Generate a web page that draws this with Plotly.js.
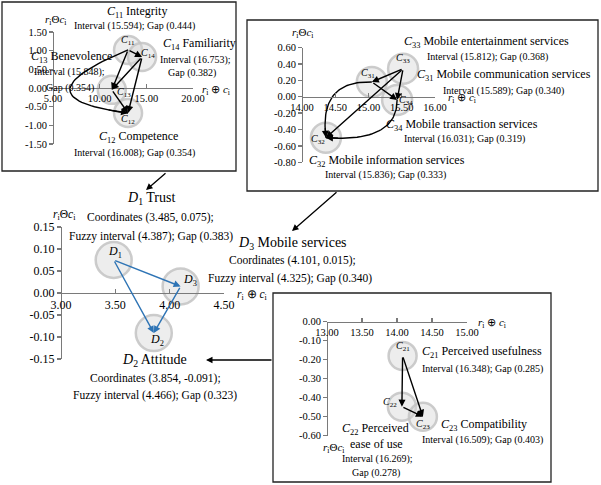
<!DOCTYPE html>
<html>
<head>
<meta charset="utf-8">
<script src="https://cdn.plot.ly/plotly-3.0.1.min.js"></script>
<style>
  body { margin: 0; background: #fff; }
  #chart { width: 601px; height: 485px; }
</style>
</head>
<body>
<div id="chart"></div>
<script>
// C1x: trust criteria (r+c, r-c)
var trustIds = ['11', '12', '13', '14'];
var trustX = [13.04, 13.04, 11.30, 14.54];
var trustY = [1.02, -0.67, -0.05, 0.83];
var trustLinks = [[0, 3], [0, 2], [3, 2], [3, 1], [2, 1]];

// C3x: mobile services criteria
var mobileIds = ['31', '32', '33', '34'];
var mobileX = [15.05, 14.36, 15.52, 15.43];
var mobileY = [0.18, -0.50, 0.34, -0.04];
var mobileLinks = [[2, 0], [2, 1], [2, 3], [0, 3]];

// D1..D3 dimensions
var dimIds = ['1', '2', '3'];
var dimX = [3.485, 3.854, 4.101];
var dimY = [0.075, -0.091, 0.015];
var dimLinks = [[0, 2], [0, 1], [2, 1]];

// C2x: attitude criteria
var attIds = ['21', '22', '23'];
var attX = [14.08, 14.07, 14.37];
var attY = [-0.18, -0.447, -0.50];
var attLinks = [[0, 1], [0, 2], [1, 2]];

var trustXTicks = [5, 10, 15, 20];
var trustYTicks = [-1.5, -1, -0.5, 0, 0.5, 1, 1.5];
var mobileXTicks = [14, 14.5, 15, 15.5, 16];
var mobileYTicks = [-0.8, -0.6, -0.4, -0.2, 0, 0.2, 0.4, 0.6];
var dimXTicks = [3, 3.5, 4, 4.5];
var dimYTicks = [-0.15, -0.1, -0.05, 0, 0.05, 0.1, 0.15];
var attXTicks = [13, 13.5, 14, 14.5, 15];
var attYTicks = [-0.6, -0.5, -0.4, -0.3, -0.2, -0.1, 0];

var FONT = 'Liberation Serif';
var W = 601, H = 485;
var INK = '#000';
var BLUE = '#2E74B5';

var layout = {
  width: W, height: H,
  margin: { l: 0, r: 0, t: 0, b: 0 },
  paper_bgcolor: '#fff',
  plot_bgcolor: 'rgba(0,0,0,0)',
  showlegend: false,
  font: { family: FONT, color: INK },
  shapes: [],
  annotations: []
};
var traces = [];

function px(x) { return x / W; }
function py(y) { return 1 - y / H; }
function f2(v) { return v.toFixed(2); }

function addPanel(n, xt, yt, xpx, ypx, fs) {
  var xdom = [px(xpx[0]), px(xpx[1])];
  var ydom = [py(ypx[1]), py(ypx[0])];
  var xr = [xt[0], xt[xt.length - 1]];
  var yr = [yt[0], yt[yt.length - 1]];
  var pos = ydom[0] + (0 - yr[0]) / (yr[1] - yr[0]) * (ydom[1] - ydom[0]);
  var common = {
    showline: true, linecolor: '#7a7a7a', linewidth: 1.4,
    tickcolor: '#7a7a7a', ticklen: 4, tickwidth: 1.3,
    showgrid: false, zeroline: false, fixedrange: true, anchor: 'free',
    tickmode: 'array',
    tickfont: { family: FONT, size: fs, color: INK }
  };
  layout['xaxis' + n] = Object.assign({ domain: xdom, range: xr, position: pos, ticks: 'inside',
    tickvals: xt, ticktext: xt.map(f2) }, common);
  layout['yaxis' + n] = Object.assign({ domain: ydom, range: yr, position: xdom[0], ticks: 'outside',
    tickvals: yt, ticktext: yt.map(f2) }, common);
}

function arrow(n, x0, y0, x1, y1, color) {
  return {
    xref: 'x' + n, yref: 'y' + n, axref: 'x' + n, ayref: 'y' + n,
    x: x1, y: y1, ax: x0, ay: y0, text: '', showarrow: true,
    arrowhead: 2, arrowsize: 1, arrowwidth: 1.4, arrowcolor: color, standoff: 0
  };
}

function addNodes(n, xs, ys, ids, letter, size, shifts, fs) {
  traces.push({
    type: 'scatter', mode: 'markers', x: xs, y: ys, xaxis: 'x' + n, yaxis: 'y' + n,
    cliponaxis: false, hoverinfo: 'skip',
    marker: { size: size, color: 'rgba(215,215,215,0.45)', line: { color: 'rgba(195,195,195,0.85)', width: 2.5 } }
  });
  ids.forEach(function (id, i) {
    layout.annotations.push({
      xref: 'x' + n, yref: 'y' + n, x: xs[i], y: ys[i],
      xshift: shifts[i][0], yshift: shifts[i][1], showarrow: false,
      text: '<i>' + letter + '</i><sub>' + id + '</sub>',
      font: { family: FONT, size: fs, color: INK }
    });
  });
}

function addLinks(n, xs, ys, links, color) {
  links.forEach(function (l) {
    layout.annotations.push(arrow(n, xs[l[0]], ys[l[0]], xs[l[1]], ys[l[1]], color));
  });
}

// quadratic curve between two nodes, bent toward (cx, cy)
function addCurve(n, xs, ys, a, b, cx, cy) {
  var bx = [], by = [];
  for (var k = 0; k <= 40; k++) {
    var t = k / 40;
    bx.push((1 - t) * (1 - t) * xs[a] + 2 * (1 - t) * t * cx + t * t * xs[b]);
    by.push((1 - t) * (1 - t) * ys[a] + 2 * (1 - t) * t * cy + t * t * ys[b]);
  }
  traces.push({ type: 'scatter', mode: 'lines', x: bx, y: by, xaxis: 'x' + n, yaxis: 'y' + n,
    hoverinfo: 'skip', line: { color: INK, width: 1.4 } });
  layout.annotations.push(arrow(n, bx[36], by[36], xs[b], ys[b], INK));
}

function label(x, y, s, fs) {
  layout.annotations.push({ xref: 'paper', yref: 'paper', x: px(x), y: py(y), text: s,
    showarrow: false, xanchor: 'center', yanchor: 'middle',
    font: { family: FONT, size: fs, color: INK } });
}

function box(x0, y0, x1, y1) {
  layout.shapes.push({ type: 'rect', xref: 'paper', yref: 'paper',
    x0: px(x0), x1: px(x1), y0: py(y1), y1: py(y0), line: { color: '#222', width: 1.3 } });
}

function connector(x0, y0, x1, y1) {
  layout.annotations.push({ xref: 'paper', yref: 'paper', x: px(x1), y: py(y1),
    axref: 'pixel', ayref: 'pixel', ax: x0 - x1, ay: y0 - y1, text: '', showarrow: true,
    arrowhead: 2, arrowsize: 1, arrowwidth: 1.3, arrowcolor: INK, standoff: 0 });
}

function C(id) { return '<i>C</i><sub>' + id + '</sub>'; }
function D(id) { return '<i>D</i><sub>' + id + '</sub>'; }
var rPlus = '<i>r</i><sub>i</sub> ⊕ <i>c</i><sub>i</sub>';
var rMinus = '<i>r</i><sub>i</sub>Θ<i>c</i><sub>i</sub>';

// panel 1: trust
addPanel('', trustXTicks, trustYTicks, [53, 193], [32, 144], 10.5);
addNodes('', trustX, trustY, trustIds, 'C', 28, [[0, 9], [0, -6], [12, -3], [6, 4]], 10);
addCurve('', trustX, trustY, 0, 1, 0.6, -0.27);
addLinks('', trustX, trustY, trustLinks, INK);

// panel 2: mobile services
addPanel('2', mobileXTicks, mobileYTicks, [302, 435], [47.5, 162.3], 10.5);
addNodes('2', mobileX, mobileY, mobileIds, 'C', 30, [[-4, 8], [-8, -2], [0, 10], [9, -1]], 10);
addCurve('2', mobileX, mobileY, 0, 1, 14.25, 0.2);
addCurve('2', mobileX, mobileY, 3, 1, 15.43, -0.56);
addLinks('2', mobileX, mobileY, mobileLinks, INK);

// panel 3: dimensions
addPanel('3', dimXTicks, dimYTicks, [61, 224], [227, 359], 12);
addNodes('3', dimX, dimY, dimIds, 'D', 36, [[1, 8], [3, -7], [9, 6]], 12);
addLinks('3', dimX, dimY, dimLinks, BLUE);

// panel 4: attitude
addPanel('4', attXTicks, attYTicks, [327, 467], [321.7, 435.7], 10.5);
addNodes('4', attX, attY, attIds, 'C', 28, [[0, 9], [-12, 4], [0, -8]], 10);
addLinks('4', attX, attY, attLinks, INK);

box(2, 2, 236, 171);
box(247, 20, 598, 191);
box(273, 293, 551, 482);
connector(167, 172, 146, 190);
connector(338, 191, 292, 231);
connector(273, 360, 206, 360);

// panel 1 texts
label(137, 12, C('11') + ' Integrity', 12);
label(134, 26, 'Interval (15.594); Gap (0.444)', 10);
label(199, 44, C('14') + ' Familiarity', 12);
label(195, 60, 'Interval (16.753);', 10);
label(192, 73, 'Gap (0.382)', 10);
label(71, 57, C('13') + ' Benevolence', 12);
label(69, 72, 'Interval (15.848);', 10);
label(70, 88, 'Gap (0.354)', 10);
label(138, 137, C('12') + ' Competence', 12);
label(134, 153, 'Interval (16.008); Gap (0.354)', 10);
label(55, 20, rMinus, 11);
label(216, 90, rPlus, 11);

// panel 2 texts
label(302, 33, rMinus, 11);
label(487, 42, C('33') + ' Mobile entertainment services', 12);
label(488, 57, 'Interval (15.812); Gap (0.368)', 10);
label(504, 75, C('31') + ' Mobile communication services', 12);
label(503, 91, 'Interval (15.589); Gap (0.340)', 10);
label(462, 98, rPlus, 11);
label(462, 125, C('34') + ' Mobile transaction services', 12);
label(464, 139, 'Interval (16.031); Gap (0.319)', 10);
label(387, 161, C('32') + ' Mobile information services', 12);
label(385, 175, 'Interval (15.836); Gap (0.333)', 10);

// panel 3 texts
label(151, 198, D('1') + ' Trust', 14);
label(150, 218, 'Coordinates (3.485, 0.075);', 11.5);
label(151, 236, 'Fuzzy interval (4.387); Gap (0.383)', 11.5);
label(64, 215, rMinus, 11.5);
label(252, 295, rPlus, 11.5);
label(292, 243, D('3') + ' Mobile services', 14);
label(292, 260, 'Coordinates (4.101, 0.015);', 11.5);
label(290, 278, 'Fuzzy interval (4.325); Gap (0.340)', 11.5);
label(154, 360, D('2') + ' Attitude', 14);
label(155, 378, 'Coordinates (3.854, -0.091);', 11.5);
label(155, 395, 'Fuzzy interval (4.466); Gap (0.323)', 11.5);

// panel 4 texts
label(492, 323, rPlus, 11);
label(334, 448, rMinus, 11);
label(482, 352, C('21') + ' Perceived usefulness', 12);
label(482, 369, 'Interval (16.348); Gap (0.285)', 10);
label(484, 425, C('23') + ' Compatibility', 12);
label(482, 440, 'Interval (16.509); Gap (0.403)', 10);
label(375, 429, C('22') + ' Perceived', 12);
label(376, 444, 'ease of use', 12);
label(377, 459, 'Interval (16.269);', 10);
label(376, 473, 'Gap (0.278)', 10);

Plotly.newPlot('chart', traces, layout, { staticPlot: true, displayModeBar: false });
</script>
</body>
</html>
